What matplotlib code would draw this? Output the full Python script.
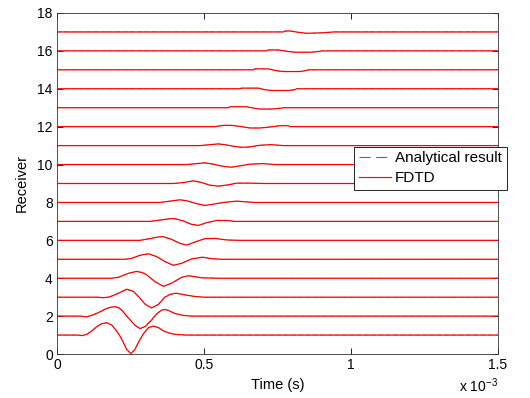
import numpy as np
import matplotlib
matplotlib.use("Agg")
import matplotlib.pyplot as plt
from matplotlib.ticker import FixedLocator, FixedFormatter

plt.rcParams['font.family'] = ['Liberation Sans', 'DejaVu Sans']
plt.rcParams['mathtext.fontset'] = 'custom'
plt.rcParams['mathtext.rm'] = 'Liberation Sans'
plt.rcParams['mathtext.it'] = 'Liberation Sans'

# Receiver traces: (time in ms, amplitude) pairs of each pulse; traces are flat elsewhere
receivers = list(range(1, 18))

r01 = [(0.070, 0.0), (0.085, -0.03), (0.101, 0.035), (0.118, 0.21), (0.135, 0.44), (0.152, 0.60),
       (0.169, 0.65), (0.186, 0.53), (0.203, 0.21), (0.214, -0.05), (0.226, -0.40), (0.237, -0.76),
       (0.251, -0.98), (0.265, -0.76), (0.279, -0.32), (0.294, 0.07), (0.311, 0.39), (0.328, 0.475),
       (0.345, 0.39), (0.367, 0.18), (0.390, 0.07), (0.413, 0.02), (0.440, 0.0)]
r02 = [(0.080, 0.0), (0.100, -0.04), (0.120, 0.05), (0.140, 0.18), (0.163, 0.36), (0.180, 0.46),
       (0.197, 0.50), (0.210, 0.44), (0.222, 0.28), (0.240, -0.05), (0.265, -0.48), (0.282, -0.66),
       (0.300, -0.55), (0.322, -0.20), (0.339, 0.12), (0.356, 0.32), (0.367, 0.35), (0.379, 0.30),
       (0.400, 0.14), (0.430, 0.035), (0.460, 0.0)]
r03 = [(0.140, 0.0), (0.155, -0.03), (0.175, 0.0), (0.190, 0.08), (0.209, 0.21), (0.237, 0.42),
       (0.260, 0.30), (0.282, -0.05), (0.300, -0.38), (0.322, -0.57), (0.345, -0.38), (0.367, 0.0),
       (0.385, 0.15), (0.405, 0.21), (0.435, 0.12), (0.469, 0.035), (0.500, 0.0)]
r04 = [(0.186, 0.0), (0.209, 0.05), (0.243, 0.26), (0.270, 0.36), (0.290, 0.30), (0.305, 0.18),
       (0.333, -0.18), (0.362, -0.43), (0.390, -0.26), (0.424, 0.05), (0.447, 0.13), (0.470, 0.08),
       (0.492, 0.02), (0.549, 0.0)]
r05 = [(0.231, 0.0), (0.254, 0.05), (0.282, 0.21), (0.311, 0.29), (0.339, 0.14), (0.367, -0.12),
       (0.396, -0.32), (0.424, -0.21), (0.458, 0.02), (0.495, 0.11), (0.526, 0.03), (0.560, 0.0)]
r06 = [(0.282, 0.0), (0.316, 0.09), (0.345, 0.18), (0.362, 0.19), (0.390, 0.05), (0.418, -0.16),
       (0.441, -0.25), (0.469, -0.09), (0.503, 0.09), (0.537, 0.10), (0.577, 0.02), (0.622, 0.0)]
r07 = [(0.316, 0.0), (0.350, 0.07), (0.384, 0.14), (0.401, 0.14), (0.430, 0.02), (0.458, -0.16),
       (0.481, -0.21), (0.509, -0.07), (0.543, 0.05), (0.577, 0.05), (0.605, 0.0)]
r08 = [(0.350, 0.0), (0.384, 0.07), (0.418, 0.14), (0.441, 0.09), (0.469, -0.04), (0.503, -0.16),
       (0.532, -0.09), (0.566, 0.0), (0.611, 0.07), (0.639, 0.035), (0.673, 0.0)]
r09 = [(0.396, 0.0), (0.430, 0.05), (0.464, 0.14), (0.492, 0.05), (0.520, -0.09), (0.549, -0.14),
       (0.583, -0.07), (0.611, 0.02), (0.656, 0.02), (0.702, 0.0)]
r10 = [(0.441, 0.0), (0.475, 0.05), (0.503, 0.09), (0.532, 0.02), (0.566, -0.10), (0.594, -0.14),
       (0.622, -0.07), (0.656, 0.02), (0.702, 0.05), (0.741, 0.0)]
r11 = [(0.486, 0.0), (0.520, 0.05), (0.549, 0.09), (0.571, 0.05), (0.600, -0.035), (0.628, -0.09),
       (0.656, -0.07), (0.690, 0.02), (0.730, 0.05), (0.770, 0.0)]
r12 = [(0.537, 0.0), (0.566, 0.07), (0.594, 0.07), (0.628, 0.0), (0.656, -0.07), (0.690, -0.07),
       (0.724, -0.02), (0.758, 0.05), (0.787, 0.05), (0.793, 0.0)]
r13 = [(0.583, 0.0), (0.588, 0.05), (0.645, 0.05), (0.668, -0.02), (0.690, -0.07), (0.730, -0.07),
       (0.764, -0.02), (0.770, 0.0)]
r14 = [(0.622, 0.0), (0.627, 0.035), (0.685, 0.035), (0.707, -0.05), (0.730, -0.09), (0.787, -0.09),
       (0.809, -0.05), (0.815, 0.0)]
r15 = [(0.668, 0.0), (0.673, 0.05), (0.719, 0.05), (0.747, -0.05), (0.770, -0.09), (0.826, -0.09),
       (0.849, -0.035), (0.855, 0.0)]
r16 = [(0.713, 0.0), (0.718, 0.05), (0.753, 0.05), (0.787, -0.035), (0.809, -0.07), (0.866, -0.07),
       (0.895, -0.02), (0.900, 0.0)]
r17 = [(0.770, 0.0), (0.776, 0.05), (0.793, 0.05), (0.821, -0.02), (0.849, -0.07), (0.900, -0.05),
       (0.940, 0.0)]

traces = [r01, r02, r03, r04, r05, r06, r07, r08, r09, r10, r11, r12, r13, r14, r15, r16, r17]

t_max = 1.5  # ms
x_ticks = [0, 0.5, 1.0, 1.5]
x_tick_labels = ['0', '0.5', '1', '1.5']
y_ticks = list(range(0, 19, 2))

fig = plt.figure(figsize=(5.30, 3.98), dpi=100)
ax = fig.add_axes([57 / 530, 44 / 398, 441 / 530, 341 / 398])

for rec, pulse in zip(receivers, traces):
    t = [0.0] + [p[0] for p in pulse] + [t_max]
    a = [0.0] + [p[1] for p in pulse] + [0.0]
    y = rec + np.asarray(a)
    # analytical trace underneath, FDTD trace drawn on top
    ax.plot(t, y, color='#222222', linestyle=(0, (14, 7)), linewidth=0.25,
            label='Analytical result' if rec == 1 else None, zorder=2)
    ax.plot(t, y, color='#ff0000', linewidth=0.9, label='FDTD' if rec == 1 else None, zorder=3)

ax.set_xlim(0, t_max)
ax.set_ylim(0, 18)
ax.xaxis.set_major_locator(FixedLocator(x_ticks))
ax.xaxis.set_major_formatter(FixedFormatter(x_tick_labels))
ax.set_yticks(y_ticks)

ax.tick_params(direction='in', length=4.5, width=0.6, top=True, right=True,
               labelsize=10, colors='black', pad=3)
for s in ax.spines.values():
    s.set_linewidth(0.6)
    s.set_color('#333333')

ax.set_xlabel('Time (s)', fontsize=10.5, labelpad=4)
ax.set_ylabel('Receiver', fontsize=10.5, labelpad=6)
fig.text(498 / 530, 1 - 386 / 398, r'x 10$^{-3}$', ha='right', va='center', fontsize=10)

leg = ax.legend(loc='upper left', bbox_to_anchor=(354 / 530, 1 - 146.5 / 398),
                bbox_transform=fig.transFigure, fontsize=11, frameon=True, fancybox=False,
                edgecolor='black', framealpha=1, borderaxespad=0, borderpad=0.3,
                handlelength=2.1, handletextpad=0.3, labelspacing=0.4)
leg.get_frame().set_linewidth(0.6)
for h in leg.get_lines():
    h.set_linewidth(0.8)
leg.get_lines()[0].set_color('#666666')
leg.get_lines()[0].set_linestyle((0, (10, 5)))

fig.savefig('out.png', dpi=100)
